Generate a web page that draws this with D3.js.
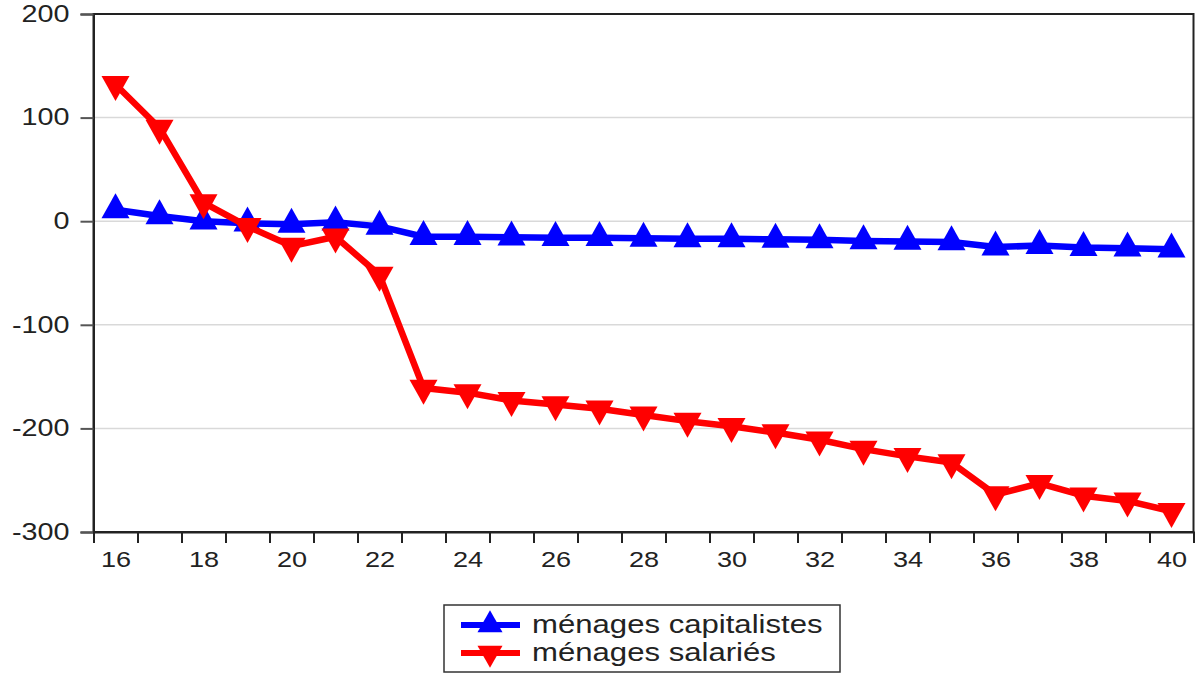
<!DOCTYPE html>
<html>
<head>
<meta charset="utf-8">
<script src="https://cdn.jsdelivr.net/npm/d3@7/dist/d3.min.js"></script>
<style>
  body { margin: 0; background: #fff; }
  svg { display: block; font-family: "Liberation Sans", Arial, sans-serif; }
</style>
</head>
<body>
<svg id="chart" width="1203" height="677"></svg>
<script>
const years = [16,17,18,19,20,21,22,23,24,25,26,27,28,29,30,31,32,33,34,35,36,37,38,39,40];
const capitalistes = [11, 5, 0, -2, -3, -1, -5, -15, -15, -15.5, -16, -16, -16.5, -17, -17, -17.5, -18, -19, -19.5, -20, -25, -23.5, -25.5, -26, -27];
const salaries = [132, 90, 18, -5, -24, -15, -52, -161, -165.5, -173, -177, -181, -187, -193, -198, -204, -211, -220, -227, -233, -264, -253, -265, -270, -280];
const yTicks = [-300, -200, -100, 0, 100, 200];
const xLabelYears = [16,18,20,22,24,26,28,30,32,34,36,38,40];
const seriesNames = ["ménages capitalistes", "ménages salariés"];
const seriesColors = ["#0000ff", "#ff0000"];

const svg = d3.select("#chart");
const pLeft = 93.5, pRight = 1193.5, pTop = 14, pBottom = 532;

const x = d3.scaleLinear().domain([15.5, 40.5]).range([pLeft, pRight]);
const y = d3.scaleLinear().domain([-300, 200]).range([pBottom, pTop]);

// gridlines
svg.append("g").selectAll("line")
  .data(yTicks.filter(d => d > -300 && d < 200))
  .join("line")
  .attr("x1", pLeft).attr("x2", pRight)
  .attr("y1", d => y(d)).attr("y2", d => y(d))
  .attr("stroke", "#d9d9d9").attr("stroke-width", 1.5);

// frame
svg.append("rect")
  .attr("x", pLeft).attr("y", pTop)
  .attr("width", pRight - pLeft).attr("height", pBottom - pTop)
  .attr("fill", "none").attr("stroke", "#222").attr("stroke-width", 2);

// y axis
const yAx = svg.append("g")
  .attr("transform", `translate(${pLeft},0)`)
  .call(d3.axisLeft(y).tickValues(yTicks).tickSize(13).tickPadding(10).tickFormat(d3.format("d")));
yAx.select(".domain").attr("stroke", "#222").attr("stroke-width", 2);
yAx.selectAll(".tick line").attr("stroke", "#555").attr("stroke-width", 2);
yAx.selectAll("text")
  .attr("font-size", 23).attr("fill", "#222")
  .attr("x", -24 / 1.25)
  .attr("transform", "scale(1.25,1)")
  .text(d => d < 0 ? "-" + Math.abs(d) : d);

// x axis ticks (period boundaries)
const boundaries = years.slice(0, -1).map(d => d + 0.5);
const xAx = svg.append("g")
  .attr("transform", `translate(0,${pBottom})`)
  .call(d3.axisBottom(x).tickValues(boundaries).tickSize(11).tickFormat(""));
xAx.select(".domain").attr("stroke", "#222").attr("stroke-width", 2);
xAx.selectAll(".tick line").attr("stroke", "#222").attr("stroke-width", 2);

// x labels
const xLab = svg.append("g")
  .attr("transform", `translate(0,${pBottom})`)
  .call(d3.axisBottom(x).tickValues(xLabelYears).tickSize(0).tickPadding(20).tickFormat(d3.format("d")));
xLab.select(".domain").remove();
xLab.selectAll("text")
  .attr("font-size", 21.5).attr("fill", "#222")
  .attr("transform", "scale(1.26,1)");

function triPath(up, w, h) {
  if (up) return `M0,${-2*h/3}L${w/2},${h/3}L${-w/2},${h/3}Z`;
  return `M0,${2*h/3}L${w/2},${-h/3}L${-w/2},${-h/3}Z`;
}

const allSeries = [capitalistes, salaries];
const line = d3.line().x((d, i) => x(years[i])).y(d => y(d));

allSeries.forEach((vals, k) => {
  const g = svg.append("g");
  g.append("path").datum(vals)
    .attr("d", line)
    .attr("fill", "none")
    .attr("stroke", seriesColors[k])
    .attr("stroke-width", 6.5)
    .attr("stroke-linejoin", "round");
  g.selectAll("path.m").data(vals).join("path")
    .attr("class", "m")
    .attr("transform", (d, i) => `translate(${x(years[i])},${y(d)})`)
    .attr("d", triPath(k === 0, 28, 25))
    .attr("fill", seriesColors[k]);
});

// legend
const leg = svg.append("g");
leg.append("rect")
  .attr("x", 444).attr("y", 605).attr("width", 396).attr("height", 67)
  .attr("fill", "#fff").attr("stroke", "#333").attr("stroke-width", 1.5);
const legRows = [625, 653];
seriesNames.forEach((name, k) => {
  const yy = legRows[k];
  leg.append("line")
    .attr("x1", 461).attr("x2", 520).attr("y1", yy).attr("y2", yy)
    .attr("stroke", seriesColors[k]).attr("stroke-width", 6);
  leg.append("path")
    .attr("transform", `translate(490,${yy})`)
    .attr("d", triPath(k === 0, 25, 22))
    .attr("fill", seriesColors[k]);
  leg.append("text")
    .attr("transform", `translate(532,${yy + 8}) scale(1.245,1)`)
    .attr("font-size", 25).attr("fill", "#222")
    .text(name);
});
</script>
</body>
</html>
